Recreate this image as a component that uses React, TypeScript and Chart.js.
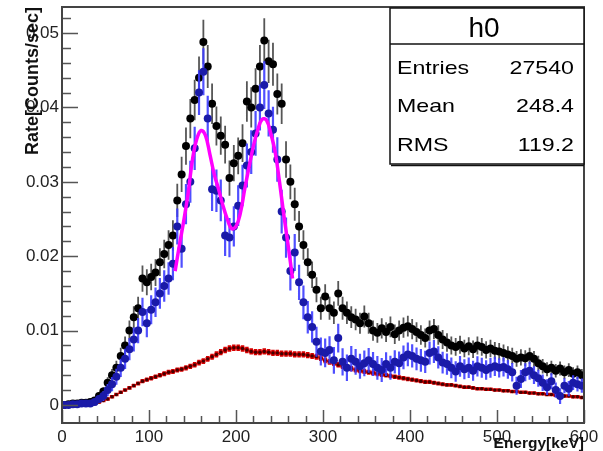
import { useEffect, useRef } from 'react';
import { Chart, registerables } from 'chart.js';

Chart.register(...registerables);

const FONT = '"Liberation Sans", Arial, Helvetica, sans-serif';

// Histogram binning (keV)
const BIN_START = 0;
const BIN_WIDTH = 5;

// Total rate (black)
const totalRate = [
  0.0000, 0.0001, 0.0002, 0.0002, 0.0003, 0.0003, 0.0004, 0.0006, 0.0012, 0.0018,
  0.0030, 0.0040, 0.0050, 0.0066, 0.0080, 0.0100, 0.0118, 0.0130, 0.0170, 0.0165,
  0.0172, 0.0178, 0.0192, 0.0203, 0.0215, 0.0228, 0.0275, 0.0310, 0.0348, 0.0385,
  0.0410, 0.0440, 0.0488, 0.0455, 0.0405, 0.0375, 0.0362, 0.0350, 0.0305, 0.0325,
  0.0335, 0.0352, 0.0408, 0.0400, 0.0425, 0.0455, 0.0490, 0.0462, 0.0458, 0.0418,
  0.0405, 0.0330, 0.0300, 0.0270, 0.0240, 0.0215, 0.0192, 0.0175, 0.0155, 0.0130,
  0.0146, 0.0130, 0.0124, 0.0150, 0.0130, 0.0124, 0.0118, 0.0115, 0.0110, 0.0119,
  0.0110, 0.0100, 0.0097, 0.0103, 0.0098, 0.0105, 0.0095, 0.0100, 0.0104, 0.0106,
  0.0102, 0.0098, 0.0094, 0.0090, 0.0100, 0.0102, 0.0094, 0.0088, 0.0084, 0.0080,
  0.0078, 0.0081, 0.0076, 0.0079, 0.0075, 0.0080, 0.0078, 0.0074, 0.0076, 0.0073,
  0.0072, 0.0070, 0.0068, 0.0066, 0.0062, 0.0064, 0.0063, 0.0066, 0.0062, 0.0056,
  0.0052, 0.0048, 0.0050, 0.0046, 0.0049, 0.0044, 0.0047, 0.0042, 0.0044, 0.0040,
];

// Background-subtracted rate (blue)
const netRate = [
  0.0000, 0.0000, 0.0001, 0.0001, 0.0002, 0.0002, 0.0002, 0.0004, 0.0008, 0.0012,
  0.0020, 0.0028, 0.0038, 0.0050, 0.0062, 0.0075, 0.0088, 0.0100, 0.0125, 0.0110,
  0.0128, 0.0138, 0.0150, 0.0160, 0.0170, 0.0190, 0.0240, 0.0210, 0.0270, 0.0300,
  0.0345, 0.0420, 0.0448, 0.0385, 0.0290, 0.0288, 0.0275, 0.0228, 0.0225, 0.0240,
  0.0268, 0.0295, 0.0322, 0.0340, 0.0365, 0.0400, 0.0430, 0.0392, 0.0370, 0.0330,
  0.0260, 0.0225, 0.0180, 0.0205, 0.0165, 0.0138, 0.0118, 0.0105, 0.0085, 0.0072,
  0.0070, 0.0074, 0.0060, 0.0090, 0.0058, 0.0050, 0.0062, 0.0058, 0.0052, 0.0056,
  0.0060, 0.0055, 0.0050, 0.0047, 0.0055, 0.0050, 0.0058, 0.0056, 0.0064, 0.0068,
  0.0066, 0.0062, 0.0060, 0.0058, 0.0070, 0.0072, 0.0064, 0.0057, 0.0055, 0.0050,
  0.0045, 0.0052, 0.0048, 0.0050, 0.0046, 0.0052, 0.0050, 0.0047, 0.0050, 0.0052,
  0.0050, 0.0051, 0.0048, 0.0044, 0.0026, 0.0035, 0.0044, 0.0046, 0.0040, 0.0036,
  0.0030, 0.0024, 0.0032, 0.0020, 0.0012, 0.0026, 0.0022, 0.0030, 0.0028, 0.0026,
];

// Background rate (red)
const backgroundRate = [
  0.0001, 0.0001, 0.0001, 0.0001, 0.0001, 0.0001, 0.0002, 0.0002, 0.0004, 0.0006,
  0.0008, 0.0011, 0.0014, 0.0017, 0.0020, 0.0023, 0.0026, 0.0029, 0.0032, 0.0034,
  0.0036, 0.0038, 0.0040, 0.0042, 0.0044, 0.0045, 0.0047, 0.0048, 0.0050, 0.0052,
  0.0054, 0.0057, 0.0059, 0.0062, 0.0065, 0.0068, 0.0071, 0.0074, 0.0076, 0.0077,
  0.0077, 0.0076, 0.0074, 0.0072, 0.0071, 0.0071, 0.0072, 0.0071, 0.0070, 0.0070,
  0.0069, 0.0069, 0.0069, 0.0068, 0.0068, 0.0068, 0.0067, 0.0066, 0.0065, 0.0063,
  0.0060, 0.0058, 0.0056, 0.0054, 0.0052, 0.0050, 0.0049, 0.0047, 0.0046, 0.0045,
  0.0044, 0.0043, 0.0042, 0.0041, 0.0040, 0.0039, 0.0038, 0.0037, 0.0036, 0.0035,
  0.0034, 0.0033, 0.0032, 0.0031, 0.0031, 0.0030, 0.0029, 0.0028, 0.0027, 0.0027,
  0.0026, 0.0025, 0.0024, 0.0024, 0.0023, 0.0022, 0.0022, 0.0021, 0.0021, 0.0020,
  0.0020, 0.0019, 0.0019, 0.0018, 0.0018, 0.0017, 0.0017, 0.0016, 0.0016, 0.0015,
  0.0015, 0.0014, 0.0014, 0.0013, 0.0013, 0.0012, 0.0012, 0.0011, 0.0011, 0.0010,
];

// Double-peak fit (magenta)
const fitEnergy = [
  130, 135, 140, 145, 150, 155, 160, 165, 170, 175, 180, 185, 190, 195,
  200, 205, 210, 215, 220, 225, 230, 235, 240, 245, 250, 255, 260, 265,
];
const fitRate = [
  0.0180, 0.0215, 0.0248, 0.0285, 0.0330, 0.0358, 0.0369, 0.0362, 0.0337, 0.0310, 0.0290, 0.0268, 0.0250, 0.0237,
  0.0240, 0.0258, 0.0290, 0.0320, 0.0348, 0.0370, 0.0384, 0.0383, 0.0365, 0.0340, 0.0300, 0.0255, 0.0214, 0.0170,
];

// Axes
const X_MIN = 0;
const X_MAX = 600;
const Y_MIN = -0.00242;
const Y_MAX = 0.0535;
const xTickValues = [0, 100, 200, 300, 400, 500, 600];
const yTickValues = [0, 0.01, 0.02, 0.03, 0.04, 0.05];
const X_MINOR_STEP = 20;
const Y_MINOR_STEP = 0.002;

const X_TITLE = 'Energy[keV]';
const Y_TITLE = 'Rate[Counts/sec]';

// Stats box
const STATS_TITLE = 'h0';
const statsLabels = ['Entries', 'Mean', 'RMS'];
const statsValues = ['27540', '248.4', '119.2'];

const binCenters = totalRate.map((_, i) => BIN_START + BIN_WIDTH * (i + 0.5));
const totalErr = totalRate.map((v) => 0.0135 * Math.sqrt(Math.max(v, 0)));
const netErr = netRate.map((_, i) => 0.0135 * Math.sqrt(Math.max(totalRate[i] + backgroundRate[i], 0)));
const bkgErr = backgroundRate.map((v) => 0.005 * Math.sqrt(Math.max(v, 0)));

const errorBarPlugin = {
  id: 'errorBars',
  beforeDatasetDraw(chart: any, args: any) {
    const ds = chart.data.datasets[args.index];
    if (!ds.errors) return;
    const { ctx, chartArea } = chart;
    const xs = chart.scales.x;
    const ys = chart.scales.y;
    ctx.save();
    ctx.beginPath();
    ctx.rect(chartArea.left, chartArea.top, chartArea.right - chartArea.left, chartArea.bottom - chartArea.top);
    ctx.clip();
    ctx.strokeStyle = ds.errorColor;
    ctx.lineWidth = ds.errorWidth;
    ctx.beginPath();
    ds.data.forEach((p: any, i: number) => {
      const e = ds.errors[i];
      const px = xs.getPixelForValue(p.x);
      const py = ys.getPixelForValue(p.y);
      ctx.moveTo(px, ys.getPixelForValue(p.y - e));
      ctx.lineTo(px, ys.getPixelForValue(p.y + e));
      ctx.moveTo(xs.getPixelForValue(p.x - BIN_WIDTH / 2), py);
      ctx.lineTo(xs.getPixelForValue(p.x + BIN_WIDTH / 2), py);
    });
    ctx.stroke();
    ctx.restore();
  },
};

const framePlugin = {
  id: 'rootFrame',
  afterDraw(chart: any) {
    const { ctx, chartArea } = chart;
    const xs = chart.scales.x;
    const ys = chart.scales.y;
    const { left, right, top, bottom } = chartArea;
    ctx.save();

    // ticks (inward)
    ctx.strokeStyle = '#555';
    ctx.lineWidth = 1.5;
    ctx.beginPath();
    for (let v = 0; v <= X_MAX + 1e-9; v += X_MINOR_STEP) {
      const px = Math.round(xs.getPixelForValue(v)) + 0.5;
      const major = Math.abs(v % 100) < 1e-6;
      ctx.moveTo(px, bottom);
      ctx.lineTo(px, bottom - (major ? 13 : 7));
    }
    for (let k = 0; k * Y_MINOR_STEP <= Y_MAX; k++) {
      const v = k * Y_MINOR_STEP;
      const py = Math.round(ys.getPixelForValue(v)) + 0.5;
      const major = k % 5 === 0;
      ctx.moveTo(left, py);
      ctx.lineTo(left + (major ? 16 : 9), py);
    }
    ctx.stroke();

    // frame
    ctx.strokeStyle = '#444';
    ctx.lineWidth = 2;
    ctx.strokeRect(left, top, right - left, bottom - top);

    // axis titles
    ctx.fillStyle = '#111';
    ctx.font = `bold 15.5px ${FONT}`;
    ctx.textAlign = 'right';
    ctx.textBaseline = 'alphabetic';
    ctx.fillText(X_TITLE, right, 448);

    ctx.save();
    ctx.translate(33, top);
    ctx.rotate(-Math.PI / 2);
    ctx.font = `bold 18px ${FONT}`;
    ctx.textAlign = 'right';
    ctx.textBaseline = 'middle';
    ctx.fillText(Y_TITLE, 0, 0);
    ctx.restore();

    // stats box
    const bx = 390;
    const by = 8;
    const bw = right - bx;
    const bh = 156;
    ctx.fillStyle = '#fff';
    ctx.fillRect(bx, by, bw, bh);
    ctx.strokeStyle = '#111';
    ctx.lineWidth = 1.5;
    ctx.strokeRect(bx, by, bw, bh);
    ctx.beginPath();
    ctx.moveTo(bx, 44);
    ctx.lineTo(bx + bw, 44);
    ctx.stroke();
    ctx.beginPath();
    ctx.moveTo(bx + 1, by + bh + 1.5);
    ctx.lineTo(bx + bw, by + bh + 1.5);
    ctx.stroke();

    ctx.fillStyle = '#000';
    ctx.font = `28px ${FONT}`;
    ctx.textAlign = 'center';
    ctx.textBaseline = 'alphabetic';
    ctx.fillText(STATS_TITLE, bx + bw / 2 - 3, 37);

    const baselines = [74, 112, 151];
    ctx.font = `19px ${FONT}`;
    statsLabels.forEach((lab, i) => {
      ctx.save();
      ctx.translate(bx + 7, baselines[i]);
      ctx.scale(1.22, 1);
      ctx.textAlign = 'left';
      ctx.fillText(lab, 0, 0);
      ctx.restore();
      ctx.save();
      ctx.translate(bx + bw - 10, baselines[i]);
      ctx.scale(1.22, 1);
      ctx.textAlign = 'right';
      ctx.fillText(statsValues[i], 0, 0);
      ctx.restore();
    });

    ctx.restore();
  },
};

export default function App() {
  const canvasRef = useRef<HTMLCanvasElement | null>(null);

  useEffect(() => {
    if (!canvasRef.current) return;
    const toPoints = (ys: number[]) => ys.map((y, i) => ({ x: binCenters[i], y }));
    const chart = new Chart(canvasRef.current, {
      type: 'scatter',
      data: {
        datasets: [
          {
            label: 'fit',
            data: fitEnergy.map((x, i) => ({ x, y: fitRate[i] })),
            showLine: true,
            borderColor: '#ff00ff',
            borderWidth: 3.5,
            pointRadius: 0,
            tension: 0.4,
            order: 0,
          } as any,
          {
            label: 'net',
            data: toPoints(netRate),
            pointRadius: 4,
            pointBackgroundColor: '#1a1aa8',
            pointBorderColor: '#1a1aa8',
            pointBorderWidth: 0,
            errors: netErr,
            errorColor: 'rgba(60,60,255,0.9)',
            errorWidth: 2.2,
            order: 1,
          } as any,
          {
            label: 'background',
            data: toPoints(backgroundRate),
            pointRadius: 1.7,
            pointBackgroundColor: '#440000',
            pointBorderColor: '#440000',
            pointBorderWidth: 0,
            errors: bkgErr,
            errorColor: '#d80000',
            errorWidth: 3.5,
            order: 2,
          } as any,
          {
            label: 'total',
            data: toPoints(totalRate),
            pointRadius: 4,
            pointBackgroundColor: '#000',
            pointBorderColor: '#000',
            pointBorderWidth: 0,
            errors: totalErr,
            errorColor: 'rgba(30,30,30,0.75)',
            errorWidth: 1.8,
            order: 3,
          } as any,
        ],
      },
      options: {
        animation: false,
        responsive: true,
        maintainAspectRatio: false,
        events: [],
        layout: { padding: { top: 7, right: 19, bottom: 0, left: 0 } },
        plugins: {
          legend: { display: false },
          tooltip: { enabled: false },
        },
        scales: {
          x: {
            type: 'linear',
            min: X_MIN,
            max: X_MAX,
            grid: { display: false, drawTicks: false },
            border: { display: false },
            afterBuildTicks: (s: any) => {
              s.ticks = xTickValues.map((value) => ({ value }));
            },
            afterFit: (s: any) => {
              s.height = 28;
              s.paddingLeft = 0;
              s.paddingRight = 0;
            },
            ticks: {
              autoSkip: false,
              maxRotation: 0,
              minRotation: 0,
              padding: 4,
              color: '#222',
              font: { family: FONT, size: 17 },
              callback: (v: any) => String(Math.round(Number(v))),
            },
          },
          y: {
            type: 'linear',
            min: Y_MIN,
            max: Y_MAX,
            grid: { display: false, drawTicks: false },
            border: { display: false },
            afterBuildTicks: (s: any) => {
              s.ticks = yTickValues.map((value) => ({ value }));
            },
            afterFit: (s: any) => {
              s.width = 62;
              s.paddingTop = 0;
              s.paddingBottom = 0;
            },
            ticks: {
              autoSkip: false,
              padding: 3,
              color: '#222',
              font: { family: FONT, size: 17 },
              callback: (v: any) => (Number(v) === 0 ? '0' : Number(v).toFixed(2)),
            },
          },
        },
      },
      plugins: [errorBarPlugin, framePlugin],
    });
    return () => chart.destroy();
  }, []);

  return (
    <div style={{ position: 'fixed', left: 0, top: 0, width: 603, height: 451, background: '#fff' }}>
      <canvas ref={canvasRef} />
    </div>
  );
}
